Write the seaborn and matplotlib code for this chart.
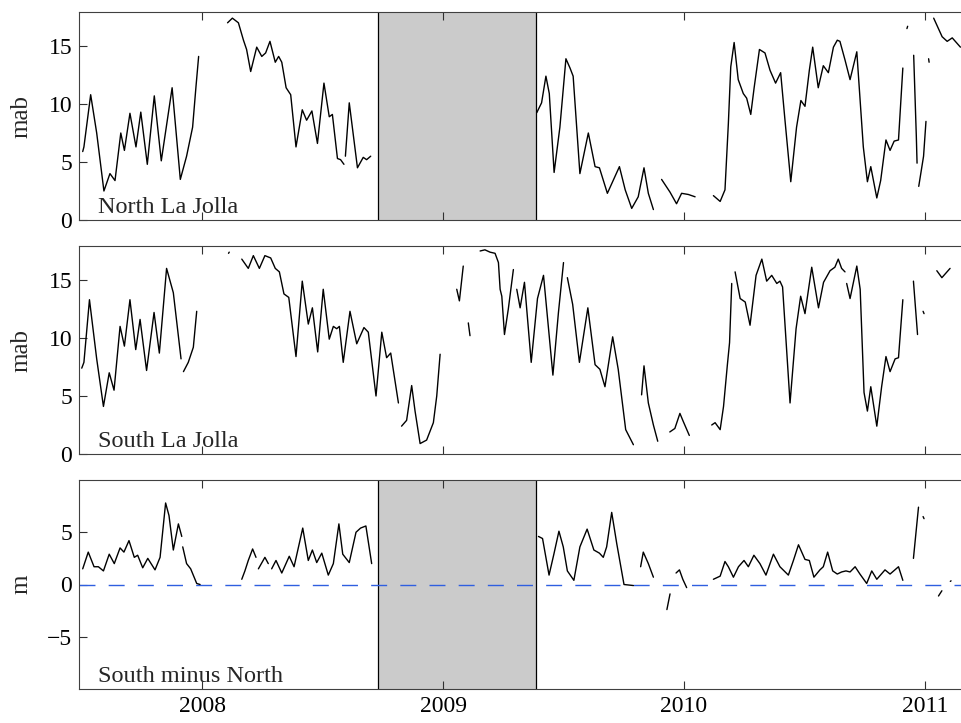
import numpy as np
import pandas as pd
import matplotlib
matplotlib.use("Agg")
import matplotlib.pyplot as plt
import seaborn as sns

nan = np.nan

# Height of the instrument above bottom (mab), North La Jolla; NaN marks a data gap
north_year = [
    2007.505, 2007.510, 2007.538, 2007.563, 2007.593, 2007.618, 2007.639, 2007.663,
    2007.678, 2007.701, 2007.726, 2007.746, 2007.773, 2007.802, 2007.831, 2007.876,
    2007.910, 2007.936, 2007.961, 2007.975, 2007.986, nan,
    2008.106, 2008.126, 2008.151, 2008.172, 2008.185, 2008.202, 2008.227, 2008.248,
    2008.264, 2008.282, 2008.304, 2008.318, 2008.331, 2008.349, 2008.368, 2008.390,
    2008.416, 2008.434, 2008.456, 2008.479, 2008.506, 2008.528, 2008.541, 2008.562,
    2008.575, 2008.589, nan,
    2008.595, 2008.611, 2008.645, 2008.669, 2008.683, 2008.700, nan,
    2009.389, 2009.409, 2009.427, 2009.441, 2009.461, 2009.485, 2009.510, 2009.527,
    2009.540, 2009.568, 2009.603, 2009.631, 2009.649, 2009.682, 2009.732, 2009.756,
    2009.783, 2009.810, 2009.834, 2009.852, 2009.873, nan,
    2009.907, 2009.942, 2009.969, 2009.990, 2010.018, 2010.046, nan,
    2010.122, 2010.150, 2010.170, 2010.184, 2010.194, 2010.208, 2010.225, 2010.246,
    2010.260, 2010.277, 2010.291, 2010.313, 2010.336, 2010.357, 2010.380, 2010.401,
    2010.419, 2010.443, 2010.467, 2010.485, 2010.502, 2010.520, 2010.534, 2010.557,
    2010.578, 2010.599, 2010.620, 2010.636, 2010.647, 2010.668, 2010.689, 2010.717,
    2010.744, 2010.761, 2010.775, 2010.800, 2010.816, 2010.838, 2010.855, 2010.872,
    2010.890, 2010.908, nan,
    2010.925, 2010.928, nan,
    2010.953, 2010.964, 2010.967, nan,
    2010.974, 2010.994, 2011.004, nan,
    2011.015, 2011.017, nan,
    2011.036, 2011.071, 2011.092, 2011.113, 2011.147,
]
north_mab = [
    5.9, 6.3, 10.8, 7.5, 2.5, 4.0, 3.4, 7.5,
    6.0, 9.2, 6.3, 9.3, 4.8, 10.7, 5.1, 11.4,
    3.5, 5.5, 8.0, 11.5, 14.1, nan,
    17.0, 17.4, 17.0, 15.5, 14.7, 12.8, 14.9, 14.1,
    14.4, 15.4, 13.6, 14.1, 13.6, 11.4, 10.8, 6.3,
    9.5, 8.6, 9.4, 6.6, 11.8, 8.9, 9.1, 5.3,
    5.2, 4.8, nan,
    5.5, 10.1, 4.5, 5.4, 5.2, 5.5, nan,
    9.25, 10.1, 12.4, 10.9, 4.1, 8.0, 13.9, 13.1,
    12.4, 4.0, 7.5, 4.6, 4.5, 2.3, 4.6, 2.6,
    1.0, 2.0, 4.5, 2.3, 0.9, nan,
    3.5, 2.4, 1.4, 2.3, 2.2, 2.0, nan,
    2.1, 1.6, 2.6, 8.3, 13.2, 15.3, 12.1, 10.9,
    10.5, 9.1, 11.4, 14.7, 14.4, 12.9, 11.8, 12.7,
    8.6, 3.3, 8.0, 10.3, 9.8, 12.9, 14.9, 11.4,
    13.3, 12.7, 14.9, 15.5, 15.4, 13.8, 12.1, 14.5,
    6.3, 3.3, 4.6, 1.9, 3.4, 6.9, 6.0, 6.8,
    6.9, 13.1, nan,
    16.5, 16.7, nan,
    14.2, 7.2, 4.9, nan,
    2.9, 5.5, 8.5, nan,
    13.9, 13.6, nan,
    17.4, 15.8, 15.4, 15.7, 14.9,
]

# Height above bottom (mab), South La Jolla
south_year = [
    2007.501, 2007.510, 2007.533, 2007.563, 2007.591, 2007.615, 2007.635, 2007.660,
    2007.678, 2007.701, 2007.725, 2007.743, 2007.770, 2007.801, 2007.823, 2007.853,
    2007.881, 2007.913, nan,
    2007.923, 2007.943, 2007.964, 2007.978, nan,
    2008.110, 2008.113, nan,
    2008.165, 2008.192, 2008.213, 2008.238, 2008.261, 2008.285, 2008.304, 2008.321,
    2008.340, 2008.360, 2008.390, 2008.416, 2008.441, 2008.458, 2008.480, 2008.503,
    2008.528, 2008.545, 2008.559, 2008.570, 2008.586, 2008.614, 2008.642, 2008.672,
    2008.690, 2008.722, 2008.746, 2008.766, 2008.783, 2008.815, nan,
    2008.828, 2008.849, 2008.870, 2008.884, 2008.905, 2008.932, 2008.960, 2008.974,
    2008.988, nan,
    2009.057, 2009.068, 2009.084, nan,
    2009.105, 2009.112, nan,
    2009.154, 2009.174, 2009.195, 2009.216, 2009.230, 2009.237, 2009.244, 2009.255,
    2009.271, 2009.292, nan,
    2009.306, 2009.320, 2009.338, 2009.366, 2009.392, 2009.417, 2009.456, 2009.479,
    2009.500, nan,
    2009.516, 2009.538, 2009.566, 2009.601, 2009.631, 2009.651, 2009.672, 2009.704,
    2009.727, 2009.758, 2009.790, nan,
    2009.824, 2009.834, 2009.852, 2009.873, 2009.891, nan,
    2009.941, 2009.962, 2009.983, 2009.997, 2010.022, nan,
    2010.115, 2010.129, 2010.150, 2010.164, 2010.180, 2010.189, 2010.198, nan,
    2010.212, 2010.233, 2010.254, 2010.274, 2010.299, 2010.323, 2010.343, 2010.364,
    2010.385, 2010.398, 2010.409, 2010.440, 2010.465, 2010.484, 2010.502, 2010.530,
    2010.558, 2010.579, 2010.606, 2010.626, 2010.640, 2010.654, 2010.668, nan,
    2010.675, 2010.689, 2010.717, 2010.731, 2010.747, 2010.761, 2010.775, 2010.800,
    2010.820, 2010.838, 2010.855, 2010.876, 2010.890, 2010.908, nan,
    2010.952, 2010.969, nan,
    2010.992, 2010.996, nan,
    2011.049, 2011.070, 2011.104,
]
south_mab = [
    7.4, 7.9, 13.3, 8.2, 4.1, 7.0, 5.5, 11.0,
    9.3, 13.3, 9.0, 11.6, 7.2, 12.2, 8.7, 16.0,
    13.9, 8.2, nan,
    7.1, 7.9, 9.2, 12.3, nan,
    17.3, 17.4, nan,
    16.8, 16.0, 17.1, 16.0, 17.1, 16.9, 16.0, 15.7,
    13.8, 13.5, 8.4, 14.9, 11.2, 12.6, 8.8, 14.2,
    9.9, 11.0, 10.8, 11.0, 7.9, 12.3, 9.5, 10.9,
    10.5, 5.0, 10.5, 8.3, 8.7, 4.4, nan,
    2.4, 2.9, 5.9, 3.7, 0.9, 1.2, 2.7, 5.0,
    8.6, nan,
    14.2, 13.2, 16.2, nan,
    11.3, 10.2, nan,
    17.5, 17.6, 17.4, 17.3, 16.5, 14.2, 13.6, 10.3,
    12.5, 15.9, nan,
    14.2, 12.6, 14.8, 7.9, 13.4, 15.4, 6.8, 12.2,
    16.5, nan,
    15.2, 12.9, 7.9, 12.6, 7.7, 7.3, 5.8, 10.1,
    7.3, 2.1, 0.8, nan,
    5.1, 7.6, 4.4, 2.5, 1.1, nan,
    1.9, 2.2, 3.5, 2.8, 1.6, nan,
    2.5, 2.7, 2.1, 4.1, 7.7, 9.6, 14.7, nan,
    15.7, 13.4, 13.1, 11.1, 15.4, 16.8, 14.9, 15.4,
    14.7, 14.9, 14.4, 4.4, 10.8, 13.6, 12.1, 16.1,
    12.6, 14.8, 15.8, 16.1, 16.8, 16.0, 15.7, nan,
    14.7, 13.4, 16.2, 14.2, 5.3, 3.7, 5.8, 2.4,
    5.8, 8.4, 7.1, 8.2, 8.3, 13.3, nan,
    14.9, 10.3, nan,
    12.3, 12.1, nan,
    15.8, 15.2, 16.0,
]

# South minus North difference (m)
diff_year = [
    2007.505, 2007.528, 2007.552, 2007.570, 2007.591, 2007.615, 2007.636, 2007.660,
    2007.676, 2007.697, 2007.719, 2007.733, 2007.754, 2007.775, 2007.805, 2007.826,
    2007.849, 2007.863, 2007.881, 2007.902, 2007.916, nan,
    2007.920, 2007.936, 2007.953, 2007.978, 2007.992, nan,
    2008.165, 2008.178, 2008.192, 2008.210, 2008.224, nan,
    2008.234, 2008.261, 2008.275, nan,
    2008.289, 2008.307, 2008.331, 2008.362, 2008.382, 2008.418, 2008.441, 2008.458,
    2008.476, 2008.497, 2008.524, 2008.545, 2008.568, 2008.584, 2008.611, 2008.639,
    2008.658, 2008.680, 2008.704, nan,
    2009.396, 2009.413, 2009.440, 2009.460, 2009.481, 2009.499, 2009.516, 2009.543,
    2009.568, 2009.598, 2009.626, 2009.649, 2009.665, 2009.679, 2009.700, 2009.721,
    2009.751, 2009.790, nan,
    2009.820, 2009.831, 2009.852, 2009.873, nan,
    2009.929, 2009.942, nan,
    2009.967, 2009.981, 2009.995, 2010.011, nan,
    2010.122, 2010.150, 2010.170, 2010.184, 2010.205, 2010.226, 2010.249, 2010.267,
    2010.290, 2010.315, 2010.340, 2010.371, 2010.398, 2010.433, 2010.454, 2010.475,
    2010.502, 2010.520, 2010.539, 2010.564, 2010.578, 2010.596, 2010.617, 2010.636,
    2010.654, 2010.672, 2010.689, 2010.710, 2010.730, 2010.758, 2010.779, 2010.800,
    2010.834, 2010.855, 2010.890, 2010.908, nan,
    2010.952, 2010.973, nan,
    2010.992, 2010.996, nan,
    2011.056, 2011.070, nan,
    2011.105, 2011.108,
]
diff_m = [
    1.5, 3.1, 1.7, 1.7, 1.3, 2.9, 2.0, 3.5,
    3.1, 4.2, 2.6, 2.8, 1.6, 2.5, 1.4, 2.6,
    7.8, 6.6, 3.3, 5.8, 4.6, nan,
    3.6, 2.0, 1.5, 0.1, 0.0, nan,
    0.5, 1.3, 2.3, 3.4, 2.6, nan,
    1.5, 2.6, 2.0, nan,
    1.5, 2.3, 1.1, 2.7, 1.7, 5.4, 2.3, 3.3,
    2.1, 3.0, 0.9, 2.0, 5.8, 2.9, 2.1, 5.0,
    5.4, 5.6, 2.0, nan,
    4.6, 4.4, 0.9, 2.9, 5.1, 3.6, 1.3, 0.4,
    3.6, 5.3, 3.3, 3.0, 2.6, 3.6, 6.9, 3.9,
    0.0, -0.1, nan,
    1.7, 3.1, 2.0, 0.7, nan,
    -2.4, -0.9, nan,
    1.1, 1.4, 0.5, -0.3, nan,
    0.5, 0.8, 2.2, 1.7, 0.7, 1.7, 2.3, 1.7,
    2.8, 2.0, 0.9, 2.9, 1.7, 0.9, 2.3, 3.8,
    2.4, 2.3, 0.7, 1.4, 1.7, 3.1, 1.3, 1.0,
    1.2, 1.3, 1.2, 1.7, 1.0, 0.1, 1.3, 0.5,
    1.4, 1.0, 1.7, 0.4, nan,
    2.5, 7.4, nan,
    6.5, 6.3, nan,
    -1.1, -0.6, nan,
    0.3, 0.35,
]

panel_labels = ["North La Jolla", "South La Jolla", "South minus North"]
ylabels = ["mab", "mab", "m"]
year_ticks = [2008, 2009, 2010, 2011]
mab_ticks = [0, 5, 10, 15]
diff_ticks = [-5, 0, 5]
gap_start, gap_end = 2008.732, 2009.386   # North mooring not deployed


def to_frame(years, values):
    """Split a NaN-separated series into segments that seaborn draws separately."""
    df = pd.DataFrame({"year": years, "value": values})
    df["seg"] = df["value"].isna().cumsum()
    return df.dropna()


sns.set_theme(style="ticks")
plt.rcParams["font.family"] = ["Liberation Serif", "DejaVu Serif"]
plt.rcParams["axes.linewidth"] = 0.8

fig = plt.figure(figsize=(9.61, 7.23), dpi=100)
x0 = 79 / 961
width = 887 / 961          # right spine falls just outside the canvas
axes = [
    fig.add_axes([x0, 1 - 220 / 723, width, 208 / 723]),
    fig.add_axes([x0, 1 - 454 / 723, width, 208 / 723]),
    fig.add_axes([x0, 1 - 689 / 723, width, 209 / 723]),
]

series = [(north_year, north_mab), (south_year, south_mab), (diff_year, diff_m)]
xlim = (2007.4896, 2007.4896 + 887 / 241)

for i, (ax, (yr, val)) in enumerate(zip(axes, series)):
    if i != 1:
        ax.axvspan(gap_start, gap_end, color="#cbcbcb", lw=0, zorder=0)
        for xv in (gap_start, gap_end):
            ax.axvline(xv, color="black", lw=0.9, zorder=1)

    df = to_frame(yr, val)
    sns.lineplot(data=df, x="year", y="value", units="seg", estimator=None,
                 color="black", lw=1.0, ax=ax, legend=False, sort=False, zorder=3)

    if i == 2:
        ax.axhline(0, color="#2f5fe0", lw=1.0, linestyle=(0, (11.5, 9.5)), zorder=2)

    ax.set_xlim(*xlim)
    if i < 2:
        ax.set_ylim(0, 17.93)
        ax.set_yticks(mab_ticks)
    else:
        ax.set_ylim(-10, 10)
        ax.set_yticks(diff_ticks)
    ax.set_xticks(year_ticks)
    ax.tick_params(direction="in", length=6, width=0.8, top=True, right=False,
                   labelsize=17, pad=5, colors="#303030", labelcolor="black")
    if i < 2:
        ax.set_xticklabels([])
    ax.set_xlabel("")
    ax.set_ylabel(ylabels[i], fontsize=18)
    ax.yaxis.set_label_coords(-47 / 887, 0.5)
    ax.text(0.0215, 0.035, panel_labels[i], transform=ax.transAxes,
            fontsize=17.5, va="baseline", ha="left", zorder=4)
    for s in ax.spines.values():
        s.set_color("#404040")

fig.savefig("out.png", dpi=100)
